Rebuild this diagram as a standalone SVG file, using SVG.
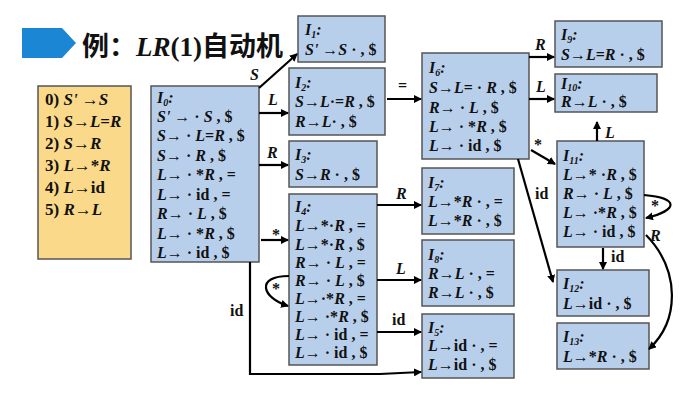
<svg xmlns="http://www.w3.org/2000/svg" width="692" height="406" viewBox="0 0 692 406">
<style>
.n{fill:#b8cfec;stroke:#555;stroke-width:1.5}
.g{fill:#fbd98a;stroke:#555;stroke-width:1.5}
text{font-family:"Liberation Serif",serif;font-weight:bold;font-size:16px;fill:#111}
.i{font-style:italic}
.e{fill:none;stroke:#000;stroke-width:2.2;marker-end:url(#a)}
</style>
<defs><marker id="a" markerWidth="8" markerHeight="8" refX="7" refY="4" orient="auto" markerUnits="userSpaceOnUse"><path d="M0,0L8,4L0,8z" fill="#000"/></marker></defs>
<g id="title">
<path d="M22,28H62L76,43L62,58H22z" fill="#1b86d4"/>
<text x="82" y="56" style="font-size:27px;font-family:'Liberation Serif','Noto Sans CJK SC',serif">例：<tspan class="i">LR</tspan>(1)自动机</text>
</g>
<g id="grammar"><rect class="g" x="38" y="86" width="93" height="173"/>
<text x="45" y="105" style="font-size:17px">0) <tspan class="i">S' </tspan>→<tspan class="i">S</tspan></text>
<text x="45" y="127" style="font-size:17px">1) <tspan class="i">S</tspan>→<tspan class="i">L</tspan>=<tspan class="i">R</tspan></text>
<text x="45" y="149" style="font-size:17px">2) <tspan class="i">S</tspan>→<tspan class="i">R</tspan></text>
<text x="45" y="171" style="font-size:17px">3) <tspan class="i">L</tspan>→*<tspan class="i">R</tspan></text>
<text x="45" y="193" style="font-size:17px">4) <tspan class="i">L</tspan>→id</text>
<text x="45" y="215" style="font-size:17px">5) <tspan class="i">R</tspan>→<tspan class="i">L</tspan></text>
</g>
<g id="I0"><rect class="n" x="151" y="86" width="108" height="176"/>
<text x="157" y="103" class="i">I<tspan font-size="10" dy="3">0</tspan><tspan dy="-3">:</tspan></text>
<text x="157" y="122"><tspan class="i">S'</tspan> → · <tspan class="i">S</tspan> , $</text>
<text x="157" y="141"><tspan class="i">S</tspan>→ · <tspan class="i">L</tspan>=<tspan class="i">R</tspan> , $</text>
<text x="157" y="161"><tspan class="i">S</tspan>→ · <tspan class="i">R</tspan> , $</text>
<text x="157" y="180"><tspan class="i">L</tspan>→ · *<tspan class="i">R</tspan> , =</text>
<text x="157" y="200"><tspan class="i">L</tspan>→ · id , =</text>
<text x="157" y="219"><tspan class="i">R</tspan>→ · <tspan class="i">L</tspan> , $</text>
<text x="157" y="239"><tspan class="i">L</tspan>→ · *<tspan class="i">R</tspan> , $</text>
<text x="157" y="258"><tspan class="i">L</tspan>→ · id , $</text>
</g>
<g id="I1"><rect class="n" x="298" y="16" width="87" height="46"/>
<text x="305" y="35" class="i">I<tspan font-size="10" dy="3">1</tspan><tspan dy="-3">:</tspan></text>
<text x="305" y="55"><tspan class="i">S'</tspan> →<tspan class="i">S</tspan> · , $</text></g>
<g id="I2"><rect class="n" x="289" y="68" width="96" height="67"/>
<text x="295" y="88" class="i">I<tspan font-size="10" dy="3">2</tspan><tspan dy="-3">:</tspan></text>
<text x="295" y="107"><tspan class="i">S</tspan>→<tspan class="i">L</tspan>·=<tspan class="i">R</tspan> , $</text>
<text x="295" y="127"><tspan class="i">R</tspan>→<tspan class="i">L</tspan>· , $</text></g>
<g id="I3"><rect class="n" x="289" y="141" width="88" height="46"/>
<text x="295" y="160" class="i">I<tspan font-size="10" dy="3">3</tspan><tspan dy="-3">:</tspan></text>
<text x="295" y="180"><tspan class="i">S</tspan>→<tspan class="i">R</tspan> · , $</text></g>
<g id="I4"><rect class="n" x="289" y="194" width="88" height="171"/>
<text x="295" y="212" class="i">I<tspan font-size="10" dy="3">4</tspan><tspan dy="-3">:</tspan></text>
<text x="295" y="231"><tspan class="i">L</tspan>→*·<tspan class="i">R</tspan> , =</text>
<text x="295" y="250"><tspan class="i">L</tspan>→*·<tspan class="i">R</tspan> , $</text>
<text x="295" y="268"><tspan class="i">R</tspan>→ · <tspan class="i">L</tspan> , =</text>
<text x="295" y="286"><tspan class="i">R</tspan>→ · <tspan class="i">L</tspan> , $</text>
<text x="295" y="304"><tspan class="i">L</tspan>→·*<tspan class="i">R</tspan> , =</text>
<text x="295" y="322"><tspan class="i">L</tspan>→ ·*<tspan class="i">R</tspan> , $</text>
<text x="295" y="340"><tspan class="i">L</tspan>→ · id , =</text>
<text x="295" y="358"><tspan class="i">L</tspan>→ · id , $</text></g>
<g id="I5"><rect class="n" x="422" y="314" width="92" height="64"/>
<text x="428" y="333" class="i">I<tspan font-size="10" dy="3">5</tspan><tspan dy="-3">:</tspan></text>
<text x="428" y="351"><tspan class="i">L</tspan>→id · , =</text>
<text x="428" y="370"><tspan class="i">L</tspan>→id · , $</text></g>
<g id="I6"><rect class="n" x="422" y="53" width="107" height="106"/>
<text x="429" y="73" class="i">I<tspan font-size="10" dy="3">6</tspan><tspan dy="-3">:</tspan></text>
<text x="429" y="93"><tspan class="i">S</tspan>→<tspan class="i">L</tspan>= · <tspan class="i">R</tspan> , $</text>
<text x="429" y="113"><tspan class="i">R</tspan>→ · <tspan class="i">L</tspan> , $</text>
<text x="429" y="132"><tspan class="i">L</tspan>→ · *<tspan class="i">R</tspan> , $</text>
<text x="429" y="151"><tspan class="i">L</tspan>→ · id , $</text></g>
<g id="I7"><rect class="n" x="422" y="168" width="92" height="66"/>
<text x="428" y="188" class="i">I<tspan font-size="10" dy="3">7</tspan><tspan dy="-3">:</tspan></text>
<text x="428" y="207"><tspan class="i">L</tspan>→*<tspan class="i">R</tspan> · , =</text>
<text x="428" y="226"><tspan class="i">L</tspan>→*<tspan class="i">R</tspan> · , $</text></g>
<g id="I8"><rect class="n" x="422" y="240" width="92" height="66"/>
<text x="428" y="260" class="i">I<tspan font-size="10" dy="3">8</tspan><tspan dy="-3">:</tspan></text>
<text x="428" y="279"><tspan class="i">R</tspan>→<tspan class="i">L</tspan> · , =</text>
<text x="428" y="298"><tspan class="i">R</tspan>→<tspan class="i">L</tspan> · , $</text></g>
<g id="I9"><rect class="n" x="555" y="21" width="107" height="46"/>
<text x="561" y="40" class="i">I<tspan font-size="10" dy="3">9</tspan><tspan dy="-3">:</tspan></text>
<text x="561" y="60"><tspan class="i">S</tspan>→<tspan class="i">L</tspan>=<tspan class="i">R</tspan> · , $</text></g>
<g id="I10"><rect class="n" x="555" y="74" width="102" height="38"/>
<text x="561" y="89" class="i">I<tspan font-size="10" dy="2">10</tspan><tspan dy="-2">:</tspan></text>
<text x="561" y="107"><tspan class="i">R</tspan>→<tspan class="i">L</tspan> · , $</text></g>
<g id="I11"><rect class="n" x="557" y="141" width="87" height="106"/>
<text x="563" y="161" class="i">I<tspan font-size="10" dy="3">11</tspan><tspan dy="-3">:</tspan></text>
<text x="563" y="180"><tspan class="i">L</tspan>→* ·<tspan class="i">R</tspan> , $</text>
<text x="563" y="199"><tspan class="i">R</tspan>→ · <tspan class="i">L</tspan> , $</text>
<text x="563" y="218"><tspan class="i">L</tspan>→ ·*<tspan class="i">R</tspan> , $</text>
<text x="563" y="237"><tspan class="i">L</tspan>→ · id , $</text></g>
<g id="I12"><rect class="n" x="557" y="270" width="92" height="46"/>
<text x="563" y="289" class="i">I<tspan font-size="10" dy="3">12</tspan><tspan dy="-3">:</tspan></text>
<text x="563" y="309"><tspan class="i">L</tspan>→id · , $</text></g>
<g id="I13"><rect class="n" x="557" y="323" width="92" height="46"/>
<text x="563" y="342" class="i">I<tspan font-size="10" dy="3">13</tspan><tspan dy="-3">:</tspan></text>
<text x="563" y="362"><tspan class="i">L</tspan>→*<tspan class="i">R</tspan> · , $</text></g>
<g id="edges">
<path class="e" d="M259,88L297,54"/><text x="250" y="80" class="i">S</text>
<path class="e" d="M259,113H288"/><text x="268" y="105" class="i">L</text>
<path class="e" d="M259,165H288"/><text x="267" y="158" class="i">R</text>
<path class="e" d="M261,240H288"/><text x="272" y="240">*</text>
<path class="e" d="M250,262V374H380L421,372"/><text x="230" y="316">id</text>
<path class="e" d="M387,99H421"/><text x="398" y="91">=</text>
<path class="e" d="M377,205H421"/><text x="396" y="199" class="i">R</text>
<path class="e" d="M377,280H421"/><text x="396" y="274" class="i">L</text>
<path class="e" d="M377,332H421"/><text x="392" y="325">id</text>
<path class="e" d="M289,276C255,276 262,298 288,306"/><text x="272" y="294">*</text>
<path class="e" d="M529,57H554"/><text x="535" y="50" class="i">R</text>
<path class="e" d="M529,99H554"/><text x="536" y="92" class="i">L</text>
<path class="e" d="M531,150L555,164"/><text x="534" y="150">*</text>
<path class="e" d="M518,159L553,282"/><text x="535" y="199">id</text>
<path class="e" d="M597,141V122"/><text x="605" y="138" class="i">L</text>
<path class="e" d="M603,248V269"/><text x="611" y="262">id</text>
<path class="e" d="M644,195C680,198 678,210 646,218"/><text x="651" y="211">*</text>
<path class="e" d="M646,235C680,270 680,320 649,349"/><text x="650" y="241" class="i">R</text>
</g>
</svg>
